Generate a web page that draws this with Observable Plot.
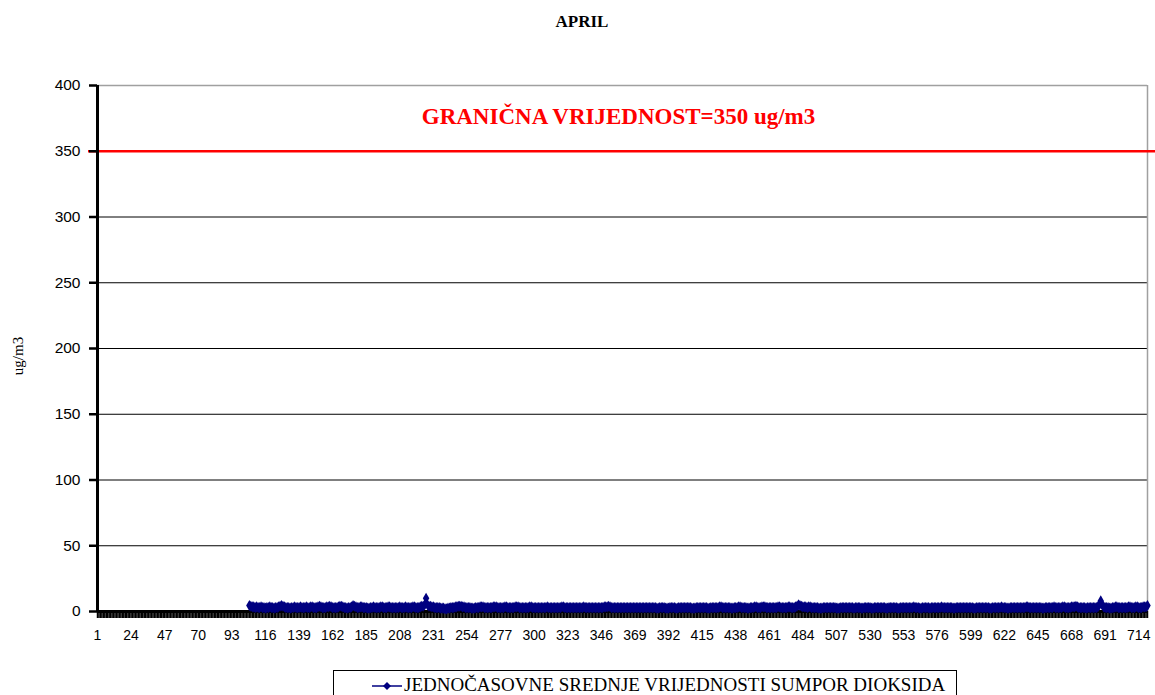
<!DOCTYPE html>
<html><head><meta charset="utf-8">
<script src="https://cdn.jsdelivr.net/npm/d3@7"></script>
<script src="https://cdn.jsdelivr.net/npm/@observablehq/plot@0.6"></script>
<style>
body{margin:0;background:#fff;overflow:hidden}
#wrap{position:relative;width:1155px;height:695px}
#title{position:absolute;top:12px;left:0;width:1164px;text-align:center;font-family:"Liberation Serif","Times New Roman",serif;font-weight:bold;font-size:17px;color:#000}
#ylab{position:absolute;left:18px;top:356px;transform:translate(-50%,-50%) rotate(-90deg);font-family:"Liberation Serif","Times New Roman",serif;font-size:15px;color:#000;white-space:nowrap}
#legend{position:absolute;left:333px;top:670px;width:622px;height:40px;border:1px solid #000;background:#fff;font-family:"Liberation Serif","Times New Roman",serif;font-size:19px;color:#000;white-space:nowrap}
#legend svg{position:absolute;left:37px;top:7px}
#legend span{position:absolute;left:70px;top:3px}
</style></head>
<body>
<div id="wrap">
<div id="title"></div>
<div id="ylab"></div>
<div id="legend"><svg width="32" height="16"><line x1="1" y1="8" x2="31" y2="8" stroke="#000080" stroke-width="1.5"/><path d="M16,4L20,8L16,12L12,8Z" fill="#000080"/></svg><span id="legtext"></span></div>
</div>
<script>
const title = "APRIL";
const yLabel = "ug/m3";
const seriesName = "JEDNOČASOVNE SREDNJE VRIJEDNOSTI SUMPOR DIOKSIDA";
const limitLabel = "GRANIČNA VRIJEDNOST=350 ug/m3";
const limitValue = 350;
const hourCount = 720;
const firstHour = 105;
const xTickLabels = [1,24,47,70,93,116,139,162,185,208,231,254,277,300,323,346,369,392,415,438,461,484,507,530,553,576,599,622,645,668,691,714];
const yTicks = [0,50,100,150,200,250,300,350,400];
const gridValues = [50,100,150,200,250,300];
const so2Values = [
4.5,4,3.5,3.5,3,3.5,3,3,3.5,3,3,2.5,3,3,3.5,3,3,2.5,3,3,
3.5,4,4.5,4,3.5,3,3,3,2.5,3,3,3.5,3,3,3,3.5,3,3,3,3.5,
3,3,3.5,3.5,3,3,3,3.5,4,3.5,3,3,3,3.5,3.5,4,3.5,3,3,3,
3,3.5,4,4,3.5,3,3,2.5,3,3,3.5,4.5,4,3.5,3,3,3.5,3.5,3,3,
3,2.5,2.5,3,3,3.5,3,3,3,3,3.5,3.5,3,3,3,3.5,3.5,3,3,3,
3,3,3,3.5,3,3,3,3.5,3,3,3,3,3.5,3.5,3,3,3,3.5,4,4,
5,10,5,4,4,3.5,3.5,3,3,3,3,2.5,2.5,2.5,2,2,2.5,2.5,3,3,
3,3.5,3.5,4,4,4,3.5,3.5,3,3,3,3,2.5,2.5,2.5,3,3,3,3.5,3.5,
3.5,3,3,3,3,3,3,3.5,3.5,3.5,3,3,3,3,3,3.5,3.5,3,3,3,
3,3,3.5,3.5,3.5,3,3,3,3,3,3,3,3.5,3.5,3,3,3,3,3,3,
3,3,3,3,3.5,3,3,3,3,3,3,3,3,3,3.5,3.5,3,3,3,3,
3,3,3,3,3,3,3,3,3,3.5,3,3,3,3,3,3,3,3,3,3,
3,3,3,3.5,3.5,3.5,4,3.5,3,3,3,3,3,3,3,3,3,3,3,3,
3,3,3,3,3,3,3,3,3,3,3,3,3,3,3,3,3,3,3,2.5,
2.5,3,3,3,3,2.5,2.5,2.5,3,3,3,3,2.5,2.5,3,3,3,3,3,3,
3,3,3,2.5,2.5,2.5,3,3,3,3,3,3,3,3,2.5,2.5,3,3,3,3,
3,3,3.5,3.5,3,3,3,3,3,3,2.5,2.5,3,3,3,3.5,3.5,3,3,3,
3,2.5,2.5,3,3,3,3.5,3.5,3,3,3,3.5,3.5,3.5,3,3,3,3,3,3,
3,3,3.5,3.5,3,3,3,3,3,3.5,3.5,3,3,3,3.5,4,5,4.5,4,3.5,
3.5,3.5,3,3.5,3.5,3,3,3,3,3,2.5,2.5,2.5,3,3,3,3,3,3,3,
3,3,2.5,2.5,2.5,3,3,3,3,3,3,3,3,3,2.5,3,3,3,3,2.5,
2.5,3,3,3,3,3,2.5,2.5,3,3,3,3,3,3,3,3,2.5,2.5,3,3,
3,3,3,3,2.5,2.5,3,3,3,3,3,3,3,3,3,3.5,3,3,3,2.5,
2.5,3,3,3,3,3,2.5,3,3,3,3,3,3,3,3.5,3,3,3,3,3,
3,3,2.5,2.5,3,3,3,3,3,3,3,3,3,3,3,3,2.5,2.5,3,3,
3,3,3,3,3,3,3,2.5,2.5,3,3,3,3,3,3,3.5,3,3,3,2.5,
2.5,3,3,3,3,3,3,3,3,3,3,3,3.5,3.5,3,3,3,3,3,3,
3,3,3,2.5,2.5,3,3,3,3,3,3,3.5,3,3,3,3,3,3.5,3.5,3,
3,3,3,3.5,3.5,3.5,4,3.5,3,3,3,3,3,2.5,3,3,3,3,3,3,
3,3.5,5,8,5,3.5,3,3,3,2.5,2.5,3,3,3.5,3.5,3,3,3,3,3,
3,3,3.5,3.5,3,3,3,3.5,3.5,3,3,3,3.5,3.5,3.5,4.5
];

document.getElementById("title").textContent = title;
document.getElementById("ylab").textContent = yLabel;
document.getElementById("legtext").textContent = seriesName;

const data = so2Values.map((v, i) => ({hour: firstHour + i, value: v}));
const hours = d3.range(1, hourCount + 1);
const navy = "#000080";

const chart = Plot.plot({
  width: 1155,
  height: 695,
  marginTop: 85,
  marginBottom: 84,
  marginLeft: 97,
  marginRight: 8,
  style: {background: "transparent", fontFamily: "'Liberation Sans', Arial, sans-serif", fontSize: "13px", color: "#000"},
  x: {domain: [1, hourCount], type: "linear"},
  y: {domain: [0, 400]},
  marks: [
    Plot.ruleY(gridValues, {stroke: "#000", strokeWidth: 1}),
    Plot.ruleY([400], {stroke: "#a0a0a0", strokeWidth: 1.5}),
    Plot.ruleX([hourCount], {stroke: "#a0a0a0", strokeWidth: 1.5}),
    Plot.ruleY([limitValue], {stroke: "#ff0000", strokeWidth: 2.5, insetLeft: -9, insetRight: -8}),
    Plot.text([limitLabel], {frameAnchor: "top", dy: 22, dx: -4, text: d => d, fill: "#ff0000", fontWeight: "bold", fontSize: 23, fontFamily: "'Liberation Serif', serif"}),
    Plot.axisY({ticks: yTicks, tickSize: 8, tickPadding: 9, strokeWidth: 2.5, label: null, fontSize: 15.5, tickFormat: d => String(d)}),
    Plot.axisX({ticks: hours, tickSize: 7, strokeWidth: 1.5, strokeOpacity: 1, tickFormat: () => "", label: null}),
    Plot.axisX({ticks: xTickLabels, tickSize: 0, tickPadding: 19, label: null, fontSize: 14, tickFormat: d => String(d)}),
    Plot.ruleY([0], {stroke: "#000", strokeWidth: 3}),
    Plot.ruleX([1], {stroke: "#000", strokeWidth: 3}),
    Plot.line(data, {x: "hour", y: "value", stroke: navy, strokeWidth: 2}),
    Plot.dot(data, {x: "hour", y: "value", symbol: "diamond", r: 3.4, fill: navy, stroke: null})
  ]
});
chart.style.position = "absolute";
chart.style.left = "0";
chart.style.top = "0";
document.getElementById("wrap").prepend(chart);
</script>
</body></html>
